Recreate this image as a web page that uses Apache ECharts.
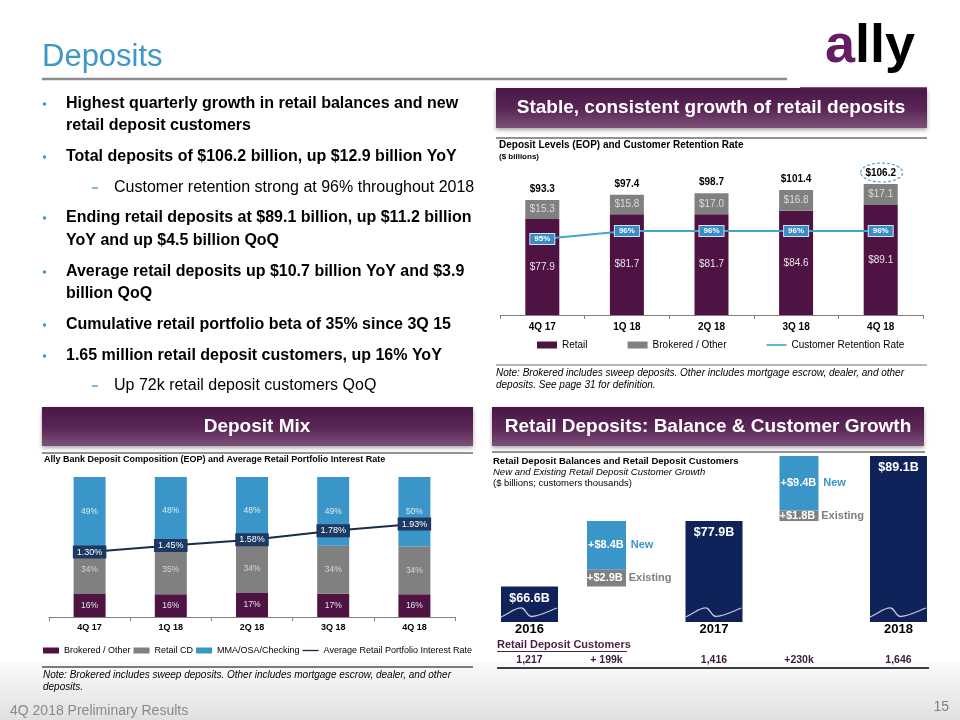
<!DOCTYPE html>
<html><head><meta charset="utf-8">
<script src="https://cdn.jsdelivr.net/npm/echarts@6/dist/echarts.min.js"></script>
<style>
html,body{margin:0;padding:0;background:#fff;}
.layer{position:absolute;left:0;top:0;width:960px;height:720px;}
</style></head>
<body>
<div id="bg" class="layer"></div>
<div id="c1" class="layer"></div>
<div id="c2" class="layer"></div>
<div id="c3" class="layer"></div>
<script>
// ---------- Data: Deposit levels ----------
const quarters = ['4Q 17', '1Q 18', '2Q 18', '3Q 18', '4Q 18'];
const retail = [77.9, 81.7, 81.7, 84.6, 89.1];
const brokeredOther = [15.3, 15.8, 17.0, 16.8, 17.1];
const totalDeposits = [93.3, 97.4, 98.7, 101.4, 106.2];
const retentionRate = [95, 96, 96, 96, 96];
// ---------- Data: Deposit mix (% of total) ----------
const mixBrokered = [16.4, 16.2, 17.2, 16.6, 16.3];
const mixRetailCD = [34.2, 35.4, 34.4, 34.3, 34.1];
const mixMMA = [49.4, 48.4, 48.4, 49.1, 49.6];
const avgRate = [1.30, 1.45, 1.58, 1.78, 1.93];
// ---------- Data: Retail balances & customers ----------
const years = ['2016', '2017', '2018'];
const yearBalances = [66.6, 77.9, 89.1];
const growthPeriods = ['2016-2017', '2017-2018'];
const growthBase = [66.6, 77.9];
const growthExisting = [2.9, 1.8];
const growthNew = [8.4, 9.4];
const customersYear = ['1,217', '1,416', '1,646'];
const customersAdded = ['+ 199k', '+230k'];

const FF = '"Liberation Sans", Arial, Helvetica, sans-serif';
const PURPLE = '#4f1343', GRAY = '#808080', BLUE = '#3a96c8', NAVY = '#0f2259';

// ---------------- Background slide (text, banners, lines) ----------------
const g = [];
function T(x, y, text, font, fill, align) {
  g.push({type: 'text', x: x, y: y, z: 5, style: {text: text, font: font + ' ' + FF, fill: fill || '#000', align: align || 'left', verticalAlign: 'middle'}});
}
function L(x1, y1, x2, y2, stroke, w) {
  g.push({type: 'line', z: 4, shape: {x1: x1, y1: y1, x2: x2, y2: y2}, style: {stroke: stroke, lineWidth: w}});
}
function banner(x, y, w, h, text, cx) {
  g.push({type: 'rect', z: 3, shape: {x: x, y: y, width: w, height: h},
    style: {fill: new echarts.graphic.LinearGradient(0, 0, 0, 1, [
      {offset: 0, color: '#4a1646'}, {offset: 0.55, color: '#5b2757'}, {offset: 1, color: '#7d5279'}]),
      shadowBlur: 4, shadowOffsetY: 2, shadowColor: 'rgba(0,0,0,0.35)'}});
  T(cx, y + h / 2, text, 'bold 19px', '#fff', 'center');
}
// footer gradient
g.push({type: 'rect', z: 1, shape: {x: 0, y: 662, width: 960, height: 58},
  style: {fill: new echarts.graphic.LinearGradient(0, 0, 0, 1, [{offset: 0, color: '#fbfbfb'}, {offset: 1, color: '#e0e0e0'}])}});
// title + logo
T(42, 57, 'Deposits', '31px', '#3d97c7');
L(42, 79, 787, 79, '#8c8c8c', 2.5);
g.push({type: 'text', x: 825, y: 47, z: 5, style: {text: '{a|a}{b|lly}', verticalAlign: 'middle',
  rich: {a: {fill: '#661c63', font: 'bold 54px ' + FF}, b: {fill: '#000', font: 'bold 54px ' + FF}}}});
L(800, 88, 927, 88, '#5a1f55', 1.5);
// bullets
const bl = [
  [104, 'Highest quarterly growth in retail balances and new', 1],
  [126, 'retail deposit customers', 0],
  [157, 'Total deposits of $106.2 billion, up $12.9 billion YoY', 1],
  [188, 'Customer retention strong at 96% throughout 2018', 2],
  [218, 'Ending retail deposits at $89.1 billion, up $11.2 billion', 1],
  [241, 'YoY and up $4.5 billion QoQ', 0],
  [272, 'Average retail deposits up $10.7 billion YoY and $3.9', 1],
  [294, 'billion QoQ', 0],
  [325, 'Cumulative retail portfolio beta of 35% since 3Q 15', 1],
  [356, '1.65 million retail deposit customers, up 16% YoY', 1],
  [386, 'Up 72k retail deposit customers QoQ', 2]
];
bl.forEach(function (b) {
  if (b[2] === 2) {
    L(92, b[0], 98, b[0], '#3d97c7', 1.3);
    T(114, b[0], b[1], '16px', '#000');
  } else {
    if (b[2] === 1) g.push({type: 'circle', z: 5, shape: {cx: 44.5, cy: b[0], r: 1.7}, style: {fill: '#3d97c7'}});
    T(66, b[0], b[1], 'bold 16px', '#000');
  }
});
// banners
banner(496, 88, 431, 40, 'Stable, consistent growth of retail deposits', 711);
banner(42, 407, 431, 39, 'Deposit Mix', 257);
banner(492, 407, 432, 39, 'Retail Deposits: Balance & Customer Growth', 708);
// top-right chart heading
L(496, 138, 927, 138, '#6e6e6e', 1.5);
T(499, 145, 'Deposit Levels (EOP) and Customer Retention Rate', 'bold 10px', '#000');
T(499, 157, '($ billions)', 'bold 8px', '#000');
L(496, 365, 927, 365, '#6e6e6e', 1);
T(496, 373, 'Note: Brokered includes sweep deposits. Other includes mortgage escrow, dealer, and other', 'italic 10px', '#000');
T(496, 385, 'deposits. See page 31 for definition.', 'italic 10px', '#000');
// bottom-left heading
L(42, 453, 473, 453, '#6e6e6e', 1.5);
T(44, 460, 'Ally Bank Deposit Composition (EOP) and Average Retail Portfolio Interest Rate', 'bold 9px', '#000');
L(42, 667, 473, 667, '#000', 1.2);
T(43, 675, 'Note: Brokered includes sweep deposits. Other includes mortgage escrow, dealer, and other', 'italic 10px', '#000');
T(43, 687, 'deposits.', 'italic 10px', '#000');
// bottom-right heading
L(492, 452, 925, 452, '#6e6e6e', 1.5);
T(493, 461, 'Retail Deposit Balances and Retail Deposit Customers', 'bold 9.5px', '#000');
T(493, 472, 'New and Existing Retail Deposit Customer Growth', 'italic 9.5px', '#000');
T(493, 483, '($ billions; customers thousands)', '9.5px', '#000');
T(497, 645, 'Retail Deposit Customers', 'bold 11px', '#4b1e46');
L(497, 651.5, 627, 651.5, '#4b1e46', 1);
L(497, 668, 929, 668, '#000', 1.5);
// footer
T(10, 711, '4Q 2018 Preliminary Results', '14px', '#8a8a8a');
T(949, 707, '15', '14px', '#7f7f7f', 'right');

const bg = echarts.init(document.getElementById('bg'), null, {renderer: 'canvas'});
bg.setOption({backgroundColor: '#fff', animation: false, graphic: {elements: g}});

// ---------------- Chart 1: deposit levels ----------------
const lineIcon = 'path://M0,0L24,0L24,2L0,2Z';
const c1 = echarts.init(document.getElementById('c1'));
c1.setOption({
  backgroundColor: 'transparent', animation: false,
  textStyle: {fontFamily: FF},
  grid: {left: 500, right: 37, top: 167, bottom: 405},
  legend: {left: 537, top: 340, padding: 0, itemGap: 40, itemWidth: 20, itemHeight: 7, selectedMode: false,
    textStyle: {fontSize: 10, color: '#000', fontFamily: FF},
    data: [{name: 'Retail', icon: 'rect'}, {name: 'Brokered / Other', icon: 'rect'}, {name: 'Customer Retention Rate', icon: lineIcon}]},
  xAxis: {type: 'category', data: quarters,
    axisLine: {lineStyle: {color: '#808080', width: 1}},
    axisTick: {show: true, alignWithLabel: false, length: 4, lineStyle: {color: '#808080'}},
    axisLabel: {interval: 0, margin: 7, color: '#000', fontWeight: 'bold', fontSize: 10, fontFamily: FF}},
  yAxis: [{type: 'value', min: 0, max: 120, show: false}, {type: 'value', min: 85.5, max: 104, show: false}],
  series: [
    {name: 'Retail', type: 'bar', stack: 'd', data: retail, barWidth: 34, itemStyle: {color: PURPLE},
      label: {show: true, position: 'inside', color: '#e6e6e6', fontSize: 10, formatter: function (p) { return '$' + p.value.toFixed(1); }}},
    {name: 'Brokered / Other', type: 'bar', stack: 'd', data: brokeredOther, barWidth: 34, itemStyle: {color: GRAY},
      label: {show: true, position: 'inside', color: '#dcdcdc', fontSize: 10, formatter: function (p) { return '$' + p.value.toFixed(1); }}},
    {name: 'Customer Retention Rate', type: 'line', yAxisIndex: 1, data: retentionRate, symbol: 'circle', symbolSize: 1,
      lineStyle: {color: '#43a5c9', width: 2}, itemStyle: {color: '#43a5c9'}, z: 5,
      label: {show: true, position: 'inside', backgroundColor: '#3a8cc4', borderColor: '#cfe3f0', borderWidth: 1,
        color: '#fff', fontSize: 8, fontWeight: 'bold', padding: [1, 4], formatter: function (p) { return p.value + '%'; }}},
    {name: 'Total', type: 'custom', z: 10, data: totalDeposits.map(function (v, i) { return [i, v]; }),
      renderItem: function (params, api) {
        const pt = api.coord([api.value(0), api.value(1)]);
        const ch = [{type: 'text', style: {text: '$' + api.value(1).toFixed(1), x: pt[0], y: pt[1] - 11,
          align: 'center', verticalAlign: 'middle', font: 'bold 10px ' + FF, fill: '#000'}}];
        if (params.dataIndex === totalDeposits.length - 1) {
          ch.push({type: 'ellipse', shape: {cx: pt[0] + 1, cy: pt[1] - 11.5, rx: 21, ry: 9.5},
            style: {fill: 'none', stroke: '#5b9fcb', lineWidth: 1.2, lineDash: [3, 2]}});
        }
        return {type: 'group', children: ch};
      }}
  ]
});

// ---------------- Chart 2: deposit mix ----------------
const pctLabel = function (col) {
  return {show: true, position: 'inside', color: col, fontSize: 8.5, formatter: function (p) { return Math.round(p.value) + '%'; }};
};
const c2 = echarts.init(document.getElementById('c2'));
c2.setOption({
  backgroundColor: 'transparent', animation: false,
  textStyle: {fontFamily: FF},
  grid: {left: 49, right: 505, top: 477, bottom: 103},
  legend: {left: 43, top: 646, padding: 0, itemGap: 3, itemWidth: 16, itemHeight: 6, selectedMode: false,
    textStyle: {fontSize: 9, color: '#000', fontFamily: FF},
    data: [{name: 'Brokered / Other', icon: 'rect'}, {name: 'Retail CD', icon: 'rect'}, {name: 'MMA/OSA/Checking', icon: 'rect'},
      {name: 'Average Retail Portfolio Interest Rate', icon: lineIcon}]},
  xAxis: {type: 'category', data: quarters,
    axisLine: {lineStyle: {color: '#808080', width: 1}},
    axisTick: {show: true, alignWithLabel: false, length: 4, lineStyle: {color: '#808080'}},
    axisLabel: {interval: 0, margin: 6, color: '#000', fontWeight: 'bold', fontSize: 9, fontFamily: FF}},
  yAxis: [{type: 'value', min: 0, max: 100, show: false}, {type: 'value', min: -0.16, max: 2.99, show: false}],
  series: [
    {name: 'Brokered / Other', type: 'bar', stack: 'm', data: mixBrokered, barWidth: 32, itemStyle: {color: PURPLE}, label: pctLabel('#e2e2e2')},
    {name: 'Retail CD', type: 'bar', stack: 'm', data: mixRetailCD, barWidth: 32, itemStyle: {color: GRAY}, label: pctLabel('#d6d6d6')},
    {name: 'MMA/OSA/Checking', type: 'bar', stack: 'm', data: mixMMA, barWidth: 32, itemStyle: {color: BLUE}, label: pctLabel('#dbe9f3')},
    {name: 'Average Retail Portfolio Interest Rate', type: 'line', yAxisIndex: 1, data: avgRate, symbol: 'circle', symbolSize: 1, z: 5,
      lineStyle: {color: '#1b2b4b', width: 2}, itemStyle: {color: '#1b2b4b'},
      label: {show: true, position: 'inside', backgroundColor: '#1c3962', color: '#fff', fontSize: 9, padding: [2, 4],
        formatter: function (p) { return p.value.toFixed(2) + '%'; }}}
  ]
});

// ---------------- Chart 3: retail balances & customers ----------------
const rowLabel = {interval: 0, margin: 2, fontSize: 10.5, fontWeight: 'bold', color: '#3d1a3a', fontFamily: FF};
const c3 = echarts.init(document.getElementById('c3'));
c3.setOption({
  backgroundColor: 'transparent', animation: false,
  textStyle: {fontFamily: FF},
  grid: [{left: 529.5, right: 61.5, top: 456, bottom: 98}, {left: 606.5, right: 161, top: 456, bottom: 98}],
  xAxis: [
    {gridIndex: 0, type: 'category', data: years, boundaryGap: false, axisLine: {show: false}, axisTick: {show: false},
      axisLabel: {interval: 0, margin: 1, fontSize: 13, fontWeight: 'bold', color: '#000', fontFamily: FF}},
    {gridIndex: 0, type: 'category', data: customersYear, boundaryGap: false, position: 'bottom', offset: 31, axisLine: {show: false}, axisTick: {show: false}, axisLabel: rowLabel},
    {gridIndex: 1, type: 'category', data: growthPeriods, boundaryGap: false, show: false},
    {gridIndex: 1, type: 'category', data: customersAdded, boundaryGap: false, position: 'bottom', offset: 31, axisLine: {show: false}, axisTick: {show: false}, axisLabel: rowLabel}
  ],
  yAxis: [{gridIndex: 0, type: 'value', min: 60.5, max: 89.1, show: false}, {gridIndex: 1, type: 'value', min: 60.5, max: 89.1, show: false}],
  series: [
    {name: 'Retail balance', type: 'custom', xAxisIndex: 0, yAxisIndex: 0, z: 3, clip: false,
      data: yearBalances.map(function (v, i) { return [i, v]; }),
      renderItem: function (params, api) {
        const c = api.coord([api.value(0), api.value(1)]);
        const b = params.coordSys.y + params.coordSys.height;
        const l = c[0] - 28.5;
        const st = {stroke: '#c6c6da', lineWidth: 1.3, fill: 'none'};
        return {type: 'group', children: [
          {type: 'rect', shape: {x: l, y: c[1], width: 57, height: b - c[1]}, style: {fill: NAVY}},
          {type: 'text', style: {text: '$' + api.value(1).toFixed(1) + 'B', x: c[0], y: c[1] + 12, align: 'center', verticalAlign: 'middle',
            font: 'bold 12.5px ' + FF, fill: '#fff'}},
          {type: 'bezierCurve', shape: {x1: l, y1: b - 5, cpx1: l + 9, cpy1: b - 9, cpx2: l + 15, cpy2: b - 15, x2: l + 21, y2: b - 14}, style: st},
          {type: 'bezierCurve', shape: {x1: l + 21, y1: b - 14, cpx1: l + 25, cpy1: b - 13, cpx2: l + 26, cpy2: b - 5, x2: l + 31, y2: b - 5.5}, style: st},
          {type: 'bezierCurve', shape: {x1: l + 31, y1: b - 5.5, cpx1: l + 40, cpy1: b - 6.5, cpx2: l + 48, cpy2: b - 11, x2: l + 56, y2: b - 14}, style: st}
        ]};
      }},
    {name: 'base', type: 'bar', xAxisIndex: 2, yAxisIndex: 1, stack: 'g', data: growthBase, barWidth: 39, clip: false,
      itemStyle: {color: 'rgba(0,0,0,0)'}, silent: true},
    {name: 'Existing', type: 'bar', xAxisIndex: 2, yAxisIndex: 1, stack: 'g', data: growthExisting, barWidth: 39, clip: false, itemStyle: {color: GRAY},
      label: {show: true, position: 'insideLeft', distance: 0,
        formatter: function (p) { return '{v|+$' + p.value.toFixed(1) + 'B}{t|Existing}'; },
        rich: {v: {color: '#fff', fontSize: 11, fontWeight: 'bold', fontFamily: FF},
          t: {color: '#7f7f7f', fontSize: 11, fontWeight: 'bold', fontFamily: FF, padding: [0, 0, 0, 6]}}}},
    {name: 'New', type: 'bar', xAxisIndex: 2, yAxisIndex: 1, stack: 'g', data: growthNew, barWidth: 39, clip: false, itemStyle: {color: BLUE},
      label: {show: true, position: 'insideLeft', distance: 1,
        formatter: function (p) { return '{v|+$' + p.value.toFixed(1) + 'B}{t|New}'; },
        rich: {v: {color: '#fff', fontSize: 11, fontWeight: 'bold', fontFamily: FF},
          t: {color: BLUE, fontSize: 11, fontWeight: 'bold', fontFamily: FF, padding: [0, 0, 0, 7]}}}}
  ]
});
</script>
</body></html>
